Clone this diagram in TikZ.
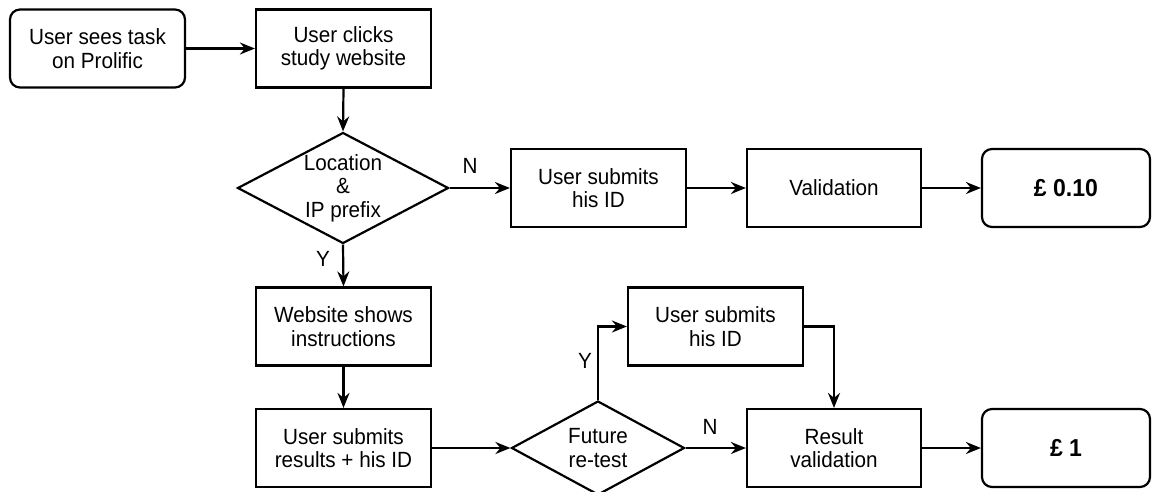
\documentclass[tikz,border=0pt]{standalone}
\usepackage{fontspec}
\setmainfont{Liberation Sans}[FakeStretch=0.94]
\usetikzlibrary{shapes.geometric,arrows.meta}
\begin{document}
\begin{tikzpicture}[x=1pt,y=-1pt,
  every node/.style={font=\fontsize{22}{23.5}\selectfont, align=center},
  box/.style={draw, line width=2.2pt, minimum width=175pt, minimum height=78pt, inner sep=2pt},
  rbox/.style={box, rounded corners=10pt},
  money/.style={rbox, minimum width=168pt, font=\fontsize{24.5}{26}\selectfont\bfseries},
  dec/.style={draw, line width=2.2pt, shape=diamond, inner sep=-40pt},
  conn/.style={line width=2.2pt, -{Stealth[length=15pt,width=12pt,inset=5pt]}},
  lbl/.style={inner sep=0pt}
]
\useasboundingbox (0,0) rectangle (1152,491);
% top row
\node[rbox] (b1) at (97.5,48.5) {User sees task\\on Prolific};
\node[box] (b2) at (343.5,48.5) {User clicks\\study website};
% decision 1
\node[dec, minimum width=211pt, minimum height=111pt] (d1) at (343,188) {Location\\\&\\IP prefix};
\node[box] (n1) at (598.5,188) {User submits\\his ID};
\node[box, minimum width=174pt] (val) at (834,188) {Validation};
\node[money] (p010) at (1066,188) {£ 0.10};
% lower part
\node[box] (web) at (343.5,326.5) {Website shows\\instructions};
\node[box] (sub) at (343.5,448) {User submits\\results + his ID};
\node[dec, minimum width=173pt, minimum height=94pt] (d2) at (598,448) {Future\\re-test};
\node[box] (n2) at (715.5,326.5) {User submits\\his ID};
\node[box, minimum width=174pt] (rv) at (834,448) {Result\\validation};
\node[money] (p1) at (1066,448) {£ 1};
% labels
\node[lbl] (lN1) at (470,166) {N};
\node[lbl] (lY1) at (323,259) {Y};
\node[lbl] (lY2) at (585,361) {Y};
\node[lbl] (lN2) at (710,427) {N};
% connectors
\draw[conn] (b1.east) -- (b2.west);
\draw[conn] (b2.south) -- (d1.north);
\draw[conn] (d1.east) -- (n1.west);
\draw[conn] (n1.east) -- (val.west);
\draw[conn] (val.east) -- (p010.west);
\draw[conn] (d1.south) -- (web.north);
\draw[conn] (web.south) -- (sub.north);
\draw[conn] (sub.east) -- (d2.west);
\draw[conn] (d2.north) |- (n2.west);
\draw[conn] (n2.east) -| (rv.north);
\draw[conn] (d2.east) -- (rv.west);
\draw[conn] (rv.east) -- (p1.west);
\end{tikzpicture}
\end{document}
